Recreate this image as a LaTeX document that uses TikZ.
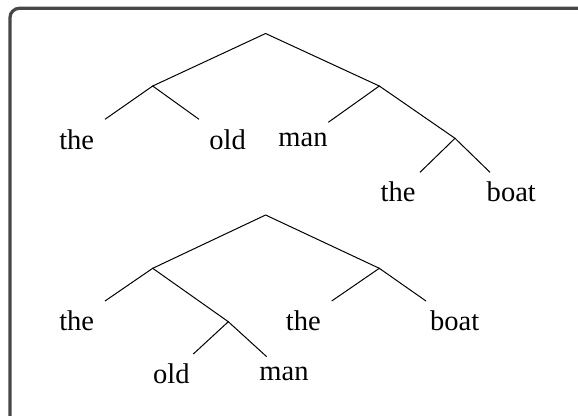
\documentclass[tikz,border=0pt]{standalone}
\usepackage{fontspec}
\setmainfont{Liberation Serif}
\begin{document}
\begin{tikzpicture}[x=0.75pt,y=-0.75pt,
  edge/.style={draw=black,line width=0.75pt},
  word/.style={inner sep=0pt,anchor=base,font=\fontsize{21.4pt}{24pt}\selectfont},
  frame/.style={draw=black!72,line width=2.4pt,rounded corners=7pt}]
\useasboundingbox (0,0) rectangle (578,415);
\clip (0,0) rectangle (578,415);
\fill[white] (0,0) rectangle (578,415);
\draw[frame] (10,8.3) rectangle (600,430);
% tree 1
\coordinate (r1) at (265.6,33.5);
\coordinate (a1) at (152.7,86);
\coordinate (b1) at (379.3,86);
\coordinate (c1) at (455,138.3);
\coordinate (l1) at (105,119.3);
\coordinate (l2) at (199,119.3);
\coordinate (l3) at (328.3,122.3);
\coordinate (l4) at (420,172.3);
\coordinate (l5) at (490,172.3);
\draw[edge] (a1) -- (r1) -- (b1);
\draw[edge] (l1) -- (a1) -- (l2);
\draw[edge] (l3) -- (b1) -- (c1);
\draw[edge] (l4) -- (c1) -- (l5);
\node[word] (w1) at (76.7,149) {the};
\node[word] (w2) at (227.7,149) {old};
\node[word] (w3) at (303,146.5) {man};
\node[word] (w4) at (398,201.5) {the};
\node[word] (w5) at (511.3,201.5) {boat};
% tree 2
\coordinate (r2) at (265.6,215);
\coordinate (a2) at (152.7,268.3);
\coordinate (b2) at (379.3,268.3);
\coordinate (c2) at (228.3,321.7);
\coordinate (m1) at (105,301);
\coordinate (m2) at (193.3,354);
\coordinate (m3) at (266.7,356.7);
\coordinate (m4) at (331.7,301);
\coordinate (m5) at (426,301);
\draw[edge] (a2) -- (r2) -- (b2);
\draw[edge] (m1) -- (a2) -- (c2);
\draw[edge] (m2) -- (c2) -- (m3);
\draw[edge] (m4) -- (b2) -- (m5);
\node[word] (v1) at (76.7,330.5) {the};
\node[word] (v2) at (171.3,383.3) {old};
\node[word] (v3) at (284,380) {man};
\node[word] (v4) at (303.3,330) {the};
\node[word] (v5) at (454.7,330) {boat};
\end{tikzpicture}
\end{document}
